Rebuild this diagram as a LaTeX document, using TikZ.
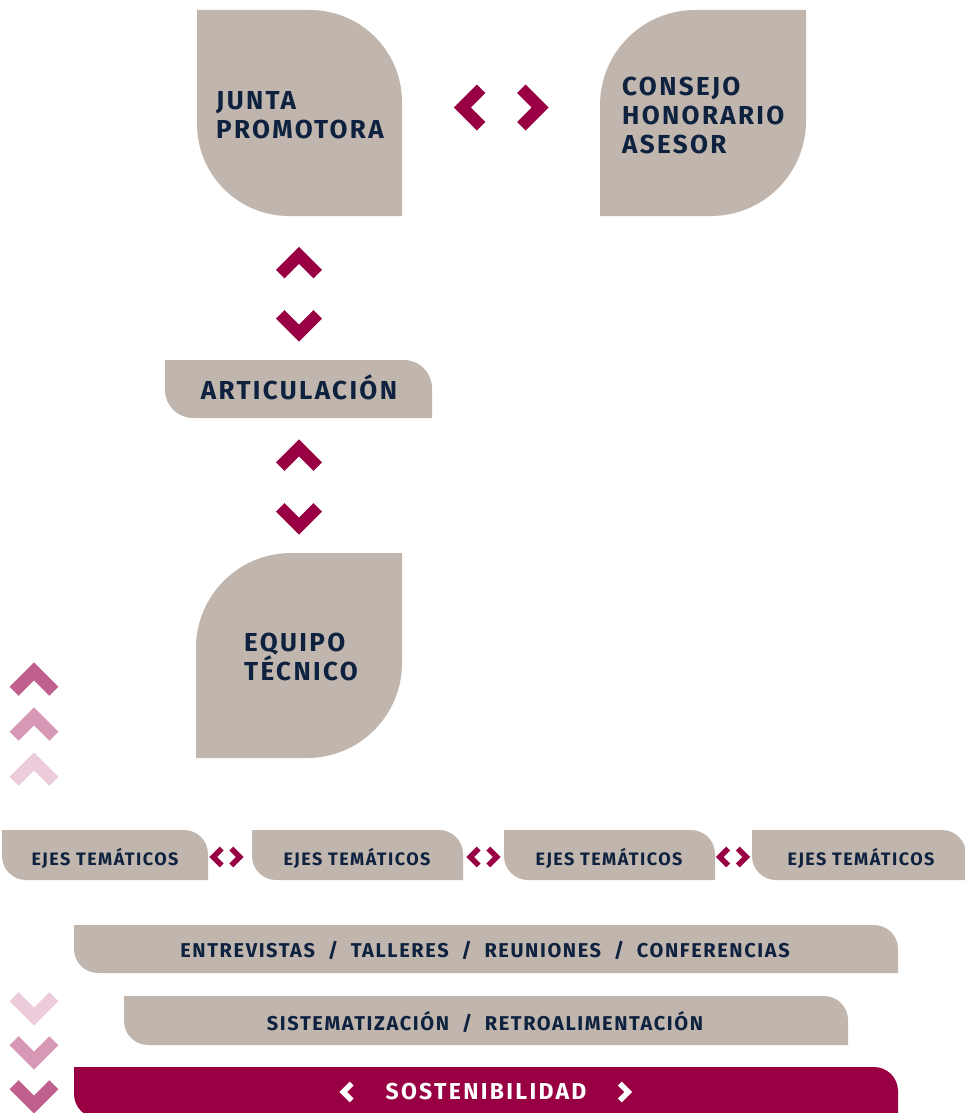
\documentclass[tikz,border=0pt]{standalone}
\usepackage{fontspec}
\newfontfamily\diagfont{Fira Sans}[LetterSpace=8]
\definecolor{beige}{RGB}{192,182,173}
\definecolor{navy}{RGB}{14,34,64}
\definecolor{wine}{RGB}{153,0,68}
\definecolor{pinkA}{RGB}{192,96,142}
\definecolor{pinkB}{RGB}{214,152,180}
\definecolor{pinkC}{RGB}{236,203,218}
\tikzset{
  bigtext/.style={font=\diagfont\bfseries\addfontfeatures{LetterSpace=9}%
    \fontsize{26}{29}\selectfont, text=navy, align=left, inner sep=0pt},
  smalltext/.style={font=\diagfont\bfseries\fontsize{18}{22}\selectfont,
    text=navy, inner sep=0pt},
  bartext/.style={font=\diagfont\bfseries\fontsize{20}{24}\selectfont,
    text=navy, inner sep=0pt},
  sosttext/.style={font=\diagfont\bfseries\addfontfeatures{LetterSpace=10}%
    \fontsize{23}{26}\selectfont, text=white, inner sep=0pt},
  pics/chevron/.style={code={
    \pgfmathsetmacro\lw{12*#1}
    \draw[line width=\lw pt, miter limit=10]
      ({-18.8*#1},{11.6*#1}) -- (0,{-7.2*#1}) -- ({18.8*#1},{11.6*#1});}},
  pics/chevron/.default=1
}
% shape with rounded top-right and bottom-left corners
\newcommand{\tabshape}[6][beige]{%
  \pgfmathsetmacro\kk{0.552*#6}
  \fill[#1] (#2,#3) -- ({#4-#6},#3)
    .. controls ({#4-#6+\kk},#3) and (#4,{#3+#6-\kk}) .. (#4,{#3+#6})
    -- (#4,#5) -- ({#2+#6},#5)
    .. controls ({#2+#6-\kk},#5) and (#2,{#5-#6+\kk}) .. (#2,{#5-#6})
    -- cycle;}
% shape with rounded top-left and bottom-right corners
\newcommand{\leafshape}[6][beige]{%
  \pgfmathsetmacro\kk{0.552*#6}
  \fill[#1] (#2,{#3+#6})
    .. controls (#2,{#3+#6-\kk}) and ({#2+#6-\kk},#3) .. ({#2+#6},#3)
    -- (#4,#3) -- (#4,{#5-#6})
    .. controls (#4,{#5-#6+\kk}) and ({#4-#6+\kk},#5) .. ({#4-#6},#5)
    -- (#2,#5) -- cycle;}

\begin{document}
\begin{tikzpicture}[x=1pt, y=-1pt]
  \useasboundingbox (0,0) rectangle (965,1113);
  \clip (0,0) rectangle (965,1113);
  % top row
  \tabshape{197}{10}{402}{216}{92}
  \leafshape{600}{10}{806}{216}{95}
  \node[bigtext, anchor=west] (junta) at (216,115) {JUNTA\\PROMOTORA};
  \node[bigtext, anchor=west] (consejo) at (622,115) {CONSEJO\\HONORARIO\\ASESOR};
  \pic[wine, rotate=90] at (469.5,107.5) {chevron};
  \pic[wine, rotate=-90] at (533,107.5) {chevron};
  % vertical chain
  \pic[wine] at (299,262.5) {chevron};
  \pic[wine, rotate=180] at (299,326) {chevron};
  \tabshape{165}{360}{432}{418}{28}
  \node[bigtext] (artic) at (299,387) {ARTICULACIÓN};
  \pic[wine] at (299,455) {chevron};
  \pic[wine, rotate=180] at (299,519) {chevron};
  \leafshape{196}{553}{402}{758}{95}
  \node[bigtext, anchor=west] (equipo) at (244,657) {EQUIPO\\TÉCNICO};
  % pink chevrons on the left
  \pic[pinkA] at (34,679) {chevron=1.06};
  \pic[pinkB] at (34,724) {chevron=1.06};
  \pic[pinkC] at (34,769) {chevron=1.06};
  \pic[pinkC, rotate=180] at (34,1009) {chevron=1.06};
  \pic[pinkB, rotate=180] at (34,1053) {chevron=1.06};
  \pic[pinkA, rotate=180] at (34,1097) {chevron=1.06};
  % ejes
  \tabshape{2}{830}{208}{880}{24}
  \tabshape{252}{830}{463}{880}{24}
  \tabshape{504}{830}{715}{880}{24}
  \tabshape{752}{830}{966}{880}{24}
  \node[smalltext] (eje1) at (105,858) {EJES TEMÁTICOS};
  \node[smalltext] (eje2) at (357,858) {EJES TEMÁTICOS};
  \node[smalltext] (eje3) at (609,858) {EJES TEMÁTICOS};
  \node[smalltext] (eje4) at (861,858) {EJES TEMÁTICOS};
  \foreach \cx in {226.5,483.5,733}{
    \pic[wine, rotate=90] at (\cx-10,857) {chevron=0.45};
    \pic[wine, rotate=-90] at (\cx+10,857) {chevron=0.45};
  }
  % bars
  \tabshape{74}{925}{898}{973}{24}
  \node[bartext] (metodos) at (485,950)
    {ENTREVISTAS \ / \ TALLERES \ / \ REUNIONES \ / \ CONFERENCIAS};
  \tabshape{124}{996}{848}{1045}{24}
  \node[bartext] (sistem) at (485,1022)
    {SISTEMATIZACIÓN \ / \ RETROALIMENTACIÓN};
  \tabshape[wine]{74}{1067}{898}{1118}{24}
  \node[sosttext] (sosten) at (486,1092) {SOSTENIBILIDAD};
  \pic[white, rotate=90] at (346.5,1092) {chevron=0.45};
  \pic[white, rotate=-90] at (625,1092) {chevron=0.45};
\end{tikzpicture}
\end{document}
